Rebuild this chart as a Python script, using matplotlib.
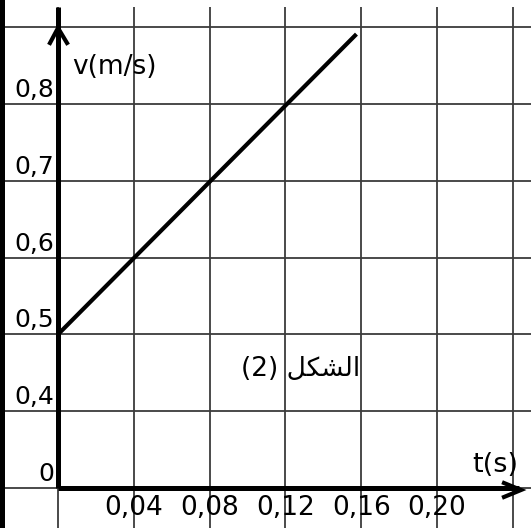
import matplotlib.pyplot as plt

# straight line v(t)
t_line = [0.0, 0.1575]
v_line = [0.5, 0.891]

t_ticks = [0.04, 0.08, 0.12, 0.16, 0.20]
t_labels = ["0,04", "0,08", "0,12", "0,16", "0,20"]
# the v axis is broken: the first cell goes from 0 to 0.4
v_ticks = [0.3, 0.4, 0.5, 0.6, 0.7, 0.8]
v_labels = ["0", "0,4", "0,5", "0,6", "0,7", "0,8"]

grid_t = [0.0, 0.04, 0.08, 0.12, 0.16, 0.20, 0.24]
grid_v = [0.3, 0.4, 0.5, 0.6, 0.7, 0.8, 0.9]

# the Arabic caption, shaped by hand (presentation forms, visual order)
caption = "(2) \uFEDE\uFEDC\uFEB8\uFEDF\uFE8D"

# pixel -> data helpers (origin at pixel 58, 488 ; 75.8 px per 0.04 s, 76.8 px per 0.1 m/s)
dx = 0.04 / 75.8
dy = 0.1 / 76.8


def tx(px):
    return (px - 58) * dx


def vy(py):
    return 0.3 + (488 - py) * dy


fig = plt.figure(figsize=(5.31, 5.28), dpi=100)
ax = fig.add_axes([0, 0, 1, 1])
ax.set_xlim(tx(0), tx(531))
ax.set_ylim(vy(528), vy(0))
ax.axis("off")

gc = "#3c3c3c"
ax.vlines(grid_t, vy(528), vy(7), color=gc, lw=1.3)
ax.hlines(grid_v, tx(5), tx(531), color=gc, lw=1.3)

# left black border
ax.axvspan(tx(0), tx(5), color="black", lw=0)

# axes
ax.plot([0, 0], [0.3, vy(7)], color="black", lw=3.6, solid_capstyle="butt")
ax.plot([0, tx(519)], [0.3, 0.3], color="black", lw=3.6, solid_capstyle="butt")
ax.plot([tx(50), 0, tx(67)], [vy(43), vy(28), vy(43)], color="black", lw=3,
        solid_joinstyle="miter")
ax.plot([tx(504), tx(521), tx(504)], [vy(483), vy(490), vy(497)], color="black",
        lw=3, solid_joinstyle="miter")

# data line
ax.plot(t_line, v_line, color="black", lw=3, solid_capstyle="butt")

for v, lab in zip(v_ticks, v_labels):
    ax.text(tx(54), v + 2 * dy, lab, ha="right", va="bottom", fontsize=18)

for t, lab in zip(t_ticks, t_labels):
    ax.text(t, vy(508), lab, ha="center", va="center", fontsize=19)

ax.text(tx(114), vy(67), "v(m/s)", ha="center", va="center", fontsize=19)
ax.text(tx(495), vy(465), "t(s)", ha="center", va="center", fontsize=19.5)
ax.text(tx(301), vy(369), caption, ha="center", va="center", fontsize=19)

fig.savefig("out.png", dpi=100)
